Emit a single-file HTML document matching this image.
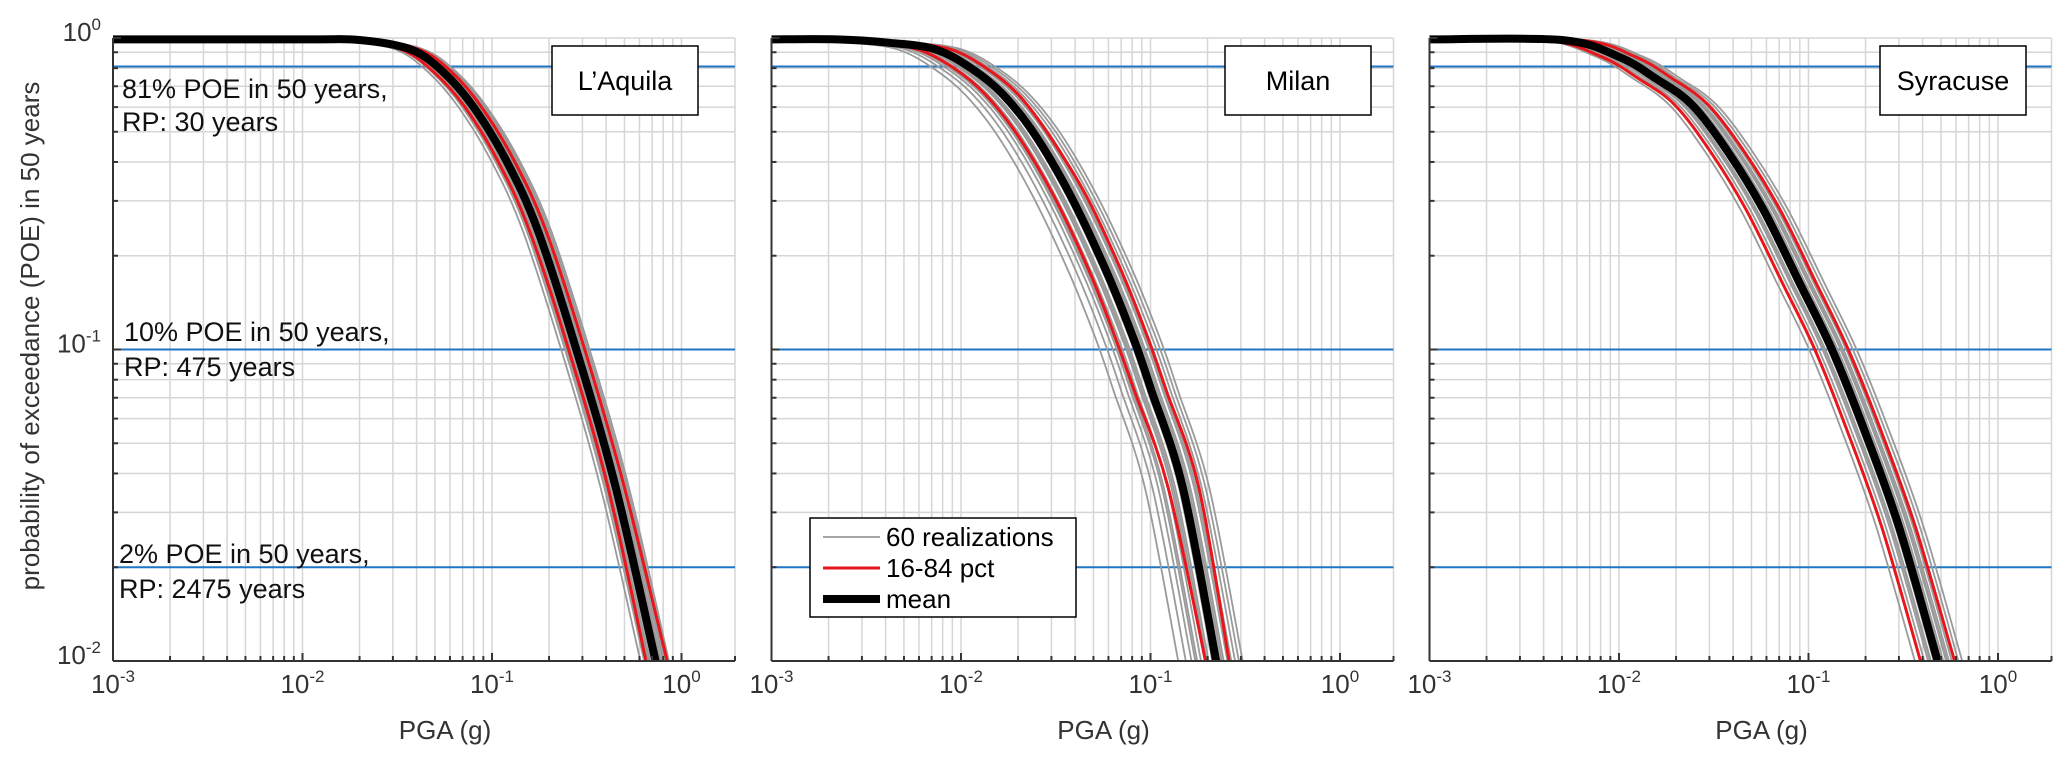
<!DOCTYPE html>
<html><head><meta charset="utf-8"><style>
html,body{margin:0;padding:0;background:#fff;}
svg{display:block;font-family:"Liberation Sans",Arial,sans-serif;}
</style></head><body>
<svg id="chart" width="2067" height="761" viewBox="0 0 2067 761" xmlns="http://www.w3.org/2000/svg"></svg>
<script>
// ---- data ----
const panelNames = ["L’Aquila", "Milan", "Syracuse"];
const aqMeanX = [0.001,0.01,0.02,0.037,0.055,0.08,0.12,0.175,0.28,0.45,0.73];
const aqMeanY = [0.99,0.99,0.985,0.92,0.78,0.60,0.40,0.24,0.099,0.036,0.01];
const aqP16X = [0.001,0.009,0.018,0.033,0.049,0.072,0.108,0.158,0.255,0.41,0.65];
const aqP84X = [0.001,0.011,0.022,0.041,0.061,0.088,0.132,0.193,0.31,0.5,0.84];
const aqShifts = [-0.08,-0.06,-0.05,-0.04,-0.03,-0.02,-0.01,0,0.01,0.02,0.03,0.04,0.05,0.06,0.07,-0.035,0.015,0.045,-0.015,0.025];
const miMeanX = [0.001,0.0022,0.0042,0.0073,0.0113,0.0166,0.0245,0.038,0.059,0.082,0.101,0.148,0.222];
const miMeanY = [0.99,0.99,0.965,0.92,0.80,0.66,0.49,0.31,0.176,0.107,0.074,0.036,0.01];
const miP16X = [0.001,0.0018,0.0034,0.0059,0.0092,0.0134,0.0198,0.031,0.048,0.066,0.082,0.124,0.195];
const miP84X = [0.001,0.0026,0.005,0.0088,0.0136,0.02,0.029,0.046,0.071,0.098,0.121,0.18,0.26];
const miShifts = [-0.2,-0.16,-0.13,-0.1,-0.08,-0.06,-0.04,-0.02,0,0.02,0.04,0.06,0.08,0.1,0.12,0.14,-0.05,0.03,0.07,-0.11];
const syMeanX = [0.001,0.005,0.01,0.0157,0.0243,0.0377,0.058,0.090,0.133,0.195,0.30,0.48];
const syMeanY = [0.99,0.985,0.87,0.74,0.61,0.43,0.28,0.163,0.1,0.056,0.027,0.01];
const syP16X = [0.001,0.0041,0.0081,0.0127,0.0197,0.0305,0.047,0.073,0.108,0.158,0.243,0.39];
const syP84X = [0.001,0.0061,0.0122,0.0192,0.0296,0.046,0.071,0.11,0.162,0.238,0.366,0.59];
const syShifts = [-0.12,-0.09,-0.07,-0.05,-0.035,-0.02,-0.01,0,0.01,0.02,0.03,0.045,0.06,0.075,0.09,0.11,0.13,-0.04,0.015,0.05];
const refLevels = [0.81, 0.10, 0.02];
const xTickExps = [-3,-2,-1,0];
const yTickExps = [0,-1,-2];

const panels = [
  {x0:113, mx:aqMeanX, my:aqMeanY, p16:aqP16X, p84:aqP84X, sh:aqShifts, title:panelNames[0], box:[552,46]},
  {x0:771.5, mx:miMeanX, my:miMeanY, p16:miP16X, p84:miP84X, sh:miShifts, title:panelNames[1], box:[1225,46]},
  {x0:1429.5, mx:syMeanX, my:syMeanY, p16:syP16X, p84:syP84X, sh:syShifts, title:panelNames[2], box:[1880,46]}
];
const W = 622, DEC = 189.5, YT = 38, YB = 661;
const NS = "http://www.w3.org/2000/svg";
const svg = document.getElementById('chart');
function el(tag, attrs, parent){ const e=document.createElementNS(NS,tag); for(const k in attrs) e.setAttribute(k,attrs[k]); (parent||svg).appendChild(e); return e; }
function yS(v){ return YT + (-Math.log10(v))*(YB-YT)/2; }
function smooth(pts){
  let d='M'+pts[0][0].toFixed(1)+','+pts[0][1].toFixed(1);
  for(let i=0;i<pts.length-1;i++){
    const p0=pts[Math.max(0,i-1)], p1=pts[i], p2=pts[i+1], p3=pts[Math.min(pts.length-1,i+2)];
    const c1=[p1[0]+(p2[0]-p0[0])/6, p1[1]+(p2[1]-p0[1])/6];
    const c2=[p2[0]-(p3[0]-p1[0])/6, p2[1]-(p3[1]-p1[1])/6];
    d+=' C'+c1[0].toFixed(1)+','+c1[1].toFixed(1)+' '+c2[0].toFixed(1)+','+c2[1].toFixed(1)+' '+p2[0].toFixed(1)+','+p2[1].toFixed(1);
  }
  return d;
}

panels.forEach((p,pi)=>{
  const xS = v => p.x0 + (Math.log10(v)+3)*DEC;
  const g = el('g',{});
  
  
  const cp = el('clipPath',{id:'clip'+pi},g);
  el('rect',{x:p.x0,y:YT-6,width:W,height:YB-YT+6},cp);
  const grid = el('g',{stroke:'#d6d6d6','stroke-width':1.5},g);
  
  
  for(let e=-3;e<=0;e++) for(let m=1;m<=9;m++){ const v=m*Math.pow(10,e); const x=xS(v); if(x>p.x0+W+0.5) continue; el('line',{x1:x,x2:x,y1:YT,y2:YB},grid); }
  el('line',{x1:p.x0+W,x2:p.x0+W,y1:YT,y2:YB},grid);
  for(let e=-2;e<=-1;e++) for(let m=1;m<=10;m++){ const y=yS(m*Math.pow(10,e)); el('line',{x1:p.x0,x2:p.x0+W,y1:y,y2:y},grid); }
  refLevels.forEach((r,ri)=>{ const l=el('line',{x1:p.x0,x2:p.x0+W,y1:yS(r),y2:yS(r),stroke:'#1f77c4','stroke-width':2},g);
      });
  const cg = el('g',{'clip-path':'url(#clip'+pi+')',fill:'none','stroke-linejoin':'round'},g);
  const pathOf = (xs,ys,f)=> smooth(xs.map((x,i)=>[xS(x*f), yS(ys[i])]));
  p.sh.forEach((s,si)=>{ const l=el('path',{d:pathOf(p.mx,p.my,Math.pow(10,s)),stroke:'#9a9a9a','stroke-width':1.8},cg);
      });
  const r1=el('path',{d:pathOf(p.p16,p.my,1),stroke:'#e8161b','stroke-width':3},cg);
   
  const r2=el('path',{d:pathOf(p.p84,p.my,1),stroke:'#e8161b','stroke-width':3},cg);
   
  const mn=el('path',{d:pathOf(p.mx,p.my,1),stroke:'#000','stroke-width':8},cg);
   
  const ax = el('g',{stroke:'#333','stroke-width':2},g);
   
  el('line',{x1:p.x0,x2:p.x0+W,y1:YB,y2:YB},ax);
  el('line',{x1:p.x0,x2:p.x0,y1:YT,y2:YB},ax);
  for(let e=-3;e<=0;e++) for(let m=1;m<=9;m++){ const x=xS(m*Math.pow(10,e)); if(x>p.x0+W+0.5) continue; el('line',{x1:x,x2:x,y1:YB,y2:YB-(m==1?8:5)},ax); }
  el('line',{x1:p.x0+W,x2:p.x0+W,y1:YB,y2:YB-5},ax);
  for(let e=-2;e<=-1;e++) for(let m=1;m<=10;m++){ const y=yS(m*Math.pow(10,e)); el('line',{x1:p.x0,x2:p.x0+(m==1||m==10?8:5),y1:y,y2:y},ax); }
  xTickExps.forEach(e=>{ const t=el('text',{x:xS(Math.pow(10,e)),y:693,'text-anchor':'middle','font-size':26,fill:'#333'},g);
     
    t.innerHTML='10<tspan dy="-11" font-size="17">'+(e==0?'0':'-'+(-e))+'</tspan>'; });
  if(pi==0){
    yTickExps.forEach(e=>{ const t=el('text',{x:101,y:yS(Math.pow(10,e))+3,'text-anchor':'end','font-size':26,fill:'#333'},g);
       
      t.innerHTML='10<tspan dy="-11" font-size="17">'+(e==0?'0':'-'+(-e))+'</tspan>'; });
  }
  const xl=el('text',{x:p.x0+332,y:739,'text-anchor':'middle','font-size':26,fill:'#333'},g);
  xl.textContent='PGA (g)';
   
  const tb=el('g',{},g);  
  el('rect',{x:p.box[0],y:p.box[1],width:146,height:69,fill:'#fff',stroke:'#000','stroke-width':1.5},tb);
  const tt=el('text',{x:p.box[0]+73,y:p.box[1]+44,'text-anchor':'middle','font-size':27,fill:'#000'},tb);
  tt.textContent=p.title;
});

const ann = [["81% POE in 50 years,",122,98],["RP: 30 years",122,131],["10% POE in 50 years,",124,341],["RP: 475 years",124,376],["2% POE in 50 years,",119,563],["RP: 2475 years",119,598]];
ann.forEach(a=>{ const t=el('text',{x:a[1],y:a[2],'font-size':27,fill:'#111'}); t.textContent=a[0];
    });

const yt=el('text',{x:0,y:0,'text-anchor':'middle','font-size':26,fill:'#333',transform:'translate(39,336) rotate(-90)'});
yt.textContent='probability of exceedance (POE) in 50 years';
 

const lg=el('g',{});  
el('rect',{x:810,y:518,width:266,height:99,fill:'#fff',stroke:'#000','stroke-width':1.5},lg);
const legItems=[["60 realizations",'#9a9a9a',1.8,537],["16-84 pct",'#e8161b',3,568],["mean",'#000',8,599]];
legItems.forEach(li=>{ const e=el('g',{},lg);  
  el('line',{x1:823,x2:880,y1:li[3],y2:li[3],stroke:li[1],'stroke-width':li[2]},e);
  const t=el('text',{x:886,y:li[3]+9,'font-size':26,fill:'#000'},e); t.textContent=li[0]; });
</script>
</body></html>
